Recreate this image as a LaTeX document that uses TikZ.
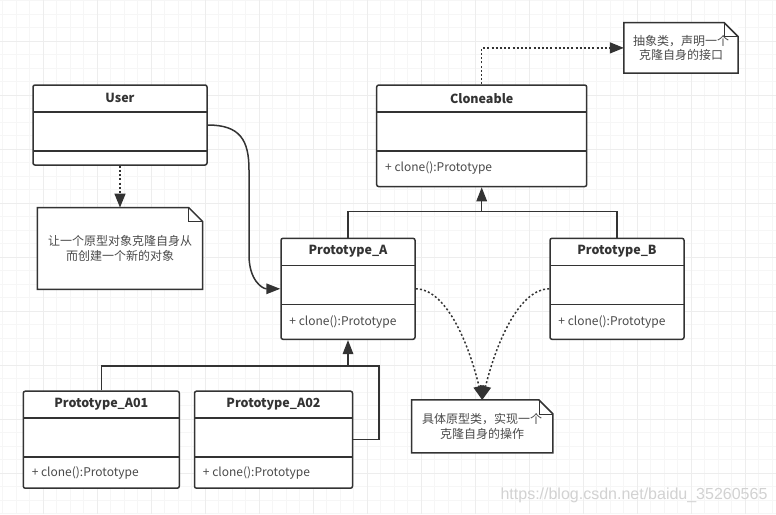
\documentclass[tikz,border=0pt]{standalone}
\usepackage{fontspec}
\setmainfont{Noto Sans CJK SC}
\newfontfamily\markfont{Liberation Sans}
\usepackage{tikz}
\usetikzlibrary{arrows.meta}

\definecolor{lineclr}{HTML}{333333}
\definecolor{textclr}{HTML}{333333}
\definecolor{noteclr}{HTML}{4A4A4A}

\begin{document}
\begin{tikzpicture}
    [
    x=1pt, y=-1pt,
    minorgrid/.style={draw=gray!7, line width=0.8pt},
    majorgrid/.style={draw=gray!14, line width=0.8pt},
    classbox/.style={draw=lineclr, line width=1.5pt, rounded corners=2pt, fill=white,
        path picture={
            \draw[lineclr, line width=1.5pt]
                ([yshift=-27pt]path picture bounding box.north west) -- ([yshift=-27pt]path picture bounding box.north east)
                ([yshift=-66pt]path picture bounding box.north west) -- ([yshift=-66pt]path picture bounding box.north east);
        }},
    classtitle/.style={inner sep=0pt, text=textclr, font=\fontsize{12.5}{15}\selectfont\bfseries},
    classop/.style={anchor=west, inner sep=0pt, text=noteclr, font=\fontsize{12}{14}\selectfont},
    notebox/.style={fill=white, align=center, inner sep=0pt, text=noteclr, font=\fontsize{12}{14.5}\selectfont},
    noteline/.style={draw=lineclr, line width=1.5pt},
    foldline/.style={draw=lineclr, line width=0.6pt},
    notearrow/.style={draw=lineclr, line width=1.5pt, dash pattern=on 2pt off 2.2pt, -{Triangle[length=14pt,width=11pt]}},
    genarrow/.style={draw=lineclr, line width=1.5pt, -{Triangle[length=14pt,width=10.5pt]}},
    genline/.style={draw=lineclr, line width=1.5pt},
    watermark/.style={inner sep=0pt, text=gray!35, font=\markfont\fontsize{16}{18}\selectfont}
    ]

    \useasboundingbox (0,0) rectangle (776,514);
    \fill[white] (0,0) rectangle (776,514);

    % background grid
    \foreach \gx in {2.5,16,...,776} \draw[minorgrid] (\gx,0) -- (\gx,514);
    \foreach \gy in {0.5,14,...,514} \draw[minorgrid] (0,\gy) -- (776,\gy);
    \foreach \gx in {43,97,...,776} \draw[majorgrid] (\gx,0) -- (\gx,514);
    \foreach \gy in {41,95,...,514} \draw[majorgrid] (0,\gy) -- (776,\gy);

    % classes
    \node[classbox, minimum width=174pt, minimum height=80pt] (user) at (120,125) {};
    \node[classtitle] (usertitle) at ([yshift=-14pt]user.north) {User};

    \node[classbox, minimum width=210pt, minimum height=101.5pt] (cloneable) at (481.7,135.8) {};
    \node[classtitle] (cloneabletitle) at ([yshift=-14pt]cloneable.north) {Cloneable};
    \node[classop] (cloneableop) at ([xshift=9pt,yshift=-84pt]cloneable.north west) {+ clone():Prototype};

    \node[classbox, minimum width=134pt, minimum height=101pt] (protoA) at (348,288.8) {};
    \node[classtitle] (protoAtitle) at ([yshift=-14pt]protoA.north) {Prototype\_A};
    \node[classop] (protoAop) at ([xshift=9pt,yshift=-84pt]protoA.north west) {+ clone():Prototype};

    \node[classbox, minimum width=134pt, minimum height=101pt] (protoB) at (617,288.8) {};
    \node[classtitle] (protoBtitle) at ([yshift=-14pt]protoB.north) {Prototype\_B};
    \node[classop] (protoBop) at ([xshift=9pt,yshift=-84pt]protoB.north west) {+ clone():Prototype};

    \node[classbox, minimum width=156pt, minimum height=97pt] (protoA01) at (101.3,439.7) {};
    \node[classtitle] (protoA01title) at ([yshift=-14pt]protoA01.north) {Prototype\_A01};
    \node[classop] (protoA01op) at ([xshift=9pt,yshift=-83pt]protoA01.north west) {+ clone():Prototype};

    \node[classbox, minimum width=158pt, minimum height=97pt] (protoA02) at (273.5,439.7) {};
    \node[classtitle] (protoA02title) at ([yshift=-14pt]protoA02.north) {Prototype\_A02};
    \node[classop] (protoA02op) at ([xshift=9pt,yshift=-83pt]protoA02.north west) {+ clone():Prototype};

    % notes
    \node[notebox, minimum width=114pt, minimum height=50pt] (topnote) at (681,47.9) {抽象类，声明一个\\克隆自身的接口};
    \node[notebox, minimum width=165pt, minimum height=81.5pt] (usernote) at (120,248.5) {让一个原型对象克隆自身从\\而创建一个新的对象};
    \node[notebox, minimum width=141pt, minimum height=52.5pt] (protonote) at (482.2,426.4) {具体原型类，实现一个\\克隆自身的操作};
    \foreach \n in {topnote,usernote,protonote} {
        \draw[noteline] (\n.north west) -- ([xshift=-14pt]\n.north east) -- ([yshift=-14pt]\n.north east) |- (\n.south west) -- cycle;
        \draw[foldline] ([xshift=-14pt]\n.north east) |- ([yshift=-14pt]\n.north east);
    }

    % generalisation
    \coordinate (abjoin) at ([yshift=-24pt]cloneable.south);
    \draw[genline] (protoA.north) |- (abjoin) -| (protoB.north);
    \draw[genarrow] (abjoin) -- (cloneable.south);

    \coordinate (a0join) at ([yshift=-26pt]protoA.south);
    \draw[genline] (protoA01.north) |- (a0join) -- ++(31,0) |- (protoA02.east);
    \draw[genarrow] (a0join) -- (protoA.south);

    % association and notes
    \draw[genarrow] (user.east) .. controls (240,125) and (249,140) .. (249,170) -- (249,255) .. controls (249,280) and (262,288.8) .. (protoA.west);
    \draw[notearrow] (cloneable.north) |- (topnote.west);
    \draw[notearrow] (user.south) -- (usernote.north);
    \draw[notearrow] (protoA.east) .. controls (445,289) and (468,340) .. (protonote.north);
    \draw[notearrow] (protoB.west) .. controls (520,289) and (497,340) .. (protonote.north);

    \node[watermark] (wmark) at (634,495) {https://blog.csdn.net/baidu\_35260565};
\end{tikzpicture}
\end{document}
